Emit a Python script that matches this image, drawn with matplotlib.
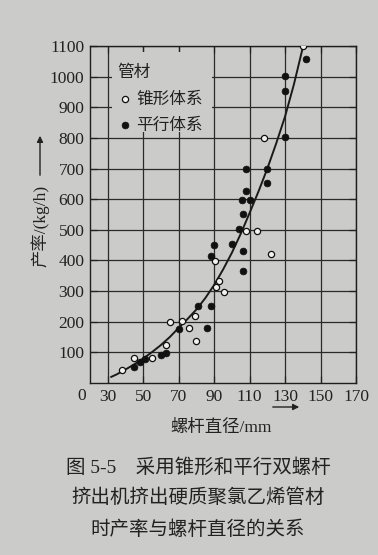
import matplotlib
matplotlib.use("Agg")
import matplotlib.pyplot as plt
from matplotlib.patches import Rectangle

# ---- data ----
cone_x = [38, 45, 55, 63, 65, 72, 76, 80, 79, 91, 93, 95.5, 90.5, 108, 114, 122, 118, 140]
cone_y = [41, 83, 80, 123, 199, 202, 178, 136, 219, 312, 334, 296, 398, 497, 497, 422, 800, 1100]

par_x = [45, 48, 51, 60, 63, 70, 81, 86, 88, 88, 90, 100, 106, 106, 104, 106,
         105.5, 110, 108, 108, 120, 120, 130, 130, 130, 142]
par_y = [53, 67, 78, 90, 97, 175, 250, 180, 250, 416, 449, 455, 430, 365, 503, 551,
         597, 598, 627, 698, 697, 652, 804, 953, 1003, 1056]

curve_x = [32, 35, 40, 45, 50, 55, 60, 65, 70, 75, 80, 85, 90, 95, 100, 105,
           110, 115, 120, 125, 130, 135, 140]
curve_y = [20, 28, 44, 61, 80, 101, 124, 150, 180, 209, 240, 277, 320, 370, 425, 487,
           555, 625, 700, 782, 870, 975, 1095]

x_ticks = [30, 50, 70, 90, 110, 130, 150, 170]
y_ticks = [100, 200, 300, 400, 500, 600, 700, 800, 900, 1000, 1100]

legend_title = "管材"
label_cone = "锥形体系"
label_par = "平行体系"
xlabel = "螺杆直径/mm"
ylabel = "产率/(kg/h)"
caption = ["图 5-5    采用锥形和平行双螺杆",
           "挤出机挤出硬质聚氯乙烯管材",
           "时产率与螺杆直径的关系"]

# ---- style ----
bg = "#cbcbc9"
ink = "#222222"
mixed = ["Liberation Serif", "Noto Sans CJK SC"]
cjk = ["Noto Sans CJK SC", "Liberation Serif"]

W, H = 378, 555
fig = plt.figure(figsize=(W / 100, H / 100), dpi=100, facecolor=bg)
ax = fig.add_axes([90 / W, (H - 383) / H, 266 / W, 337 / H])
ax.set_facecolor(bg)
ax.set_xlim(20, 170)
ax.set_ylim(0, 1100)
ax.set_xticks(x_ticks)
ax.set_yticks(y_ticks)
ax.grid(True, color="#2a2a2a", lw=0.9)
ax.set_axisbelow(True)
ax.tick_params(direction="in", length=5, width=0.9, colors=ink, top=True, right=True,
               labelsize=12.5, pad=4)
for lab in ax.get_xticklabels() + ax.get_yticklabels():
    lab.set_family("Liberation Serif")
    lab.set_color(ink)
for sp in ax.spines.values():
    sp.set_color("#1e1e1e")
    sp.set_linewidth(1.0)

# legend background that interrupts the grid
ax.add_patch(Rectangle((0.083, 0.745), 0.376, 0.238, transform=ax.transAxes,
                       facecolor=bg, edgecolor="none", zorder=1))

ax.plot(curve_x, curve_y, color="#1a1a1a", lw=1.4, zorder=2)
h1 = ax.scatter(cone_x, cone_y, s=20, facecolors="#f2f2f0", edgecolors="#111111",
                linewidths=0.9, zorder=3, label=label_cone)
h2 = ax.scatter(par_x, par_y, s=24, facecolors="#111111", edgecolors="#111111",
                linewidths=0.5, zorder=3, label=label_par)

leg = ax.legend(handles=[h1, h2], loc="upper left", bbox_to_anchor=(0.06, 0.98),
                frameon=False, title=legend_title, alignment="left",
                prop={"family": cjk, "size": 12},
                title_fontproperties={"family": cjk, "size": 12},
                handletextpad=0.2, labelspacing=0.55, borderpad=0.2,
                handlelength=0.9, scatterpoints=1)
for t in leg.get_texts():
    t.set_color(ink)
leg.get_title().set_color(ink)

# shared origin label
fig.text(82 / W, 1 - 396 / H, "0", ha="center", va="center", family="Liberation Serif",
         size=12.5, color=ink)

# y label with arrow
fig.text(40 / W, 1 - 226 / H, ylabel, rotation=90, ha="center", va="center",
         family=mixed, size=12.5, color=ink)
ax.annotate("", xy=(40 / W, 1 - 133 / H), xytext=(40 / W, 1 - 178 / H),
            xycoords="figure fraction", textcoords="figure fraction",
            arrowprops=dict(arrowstyle="-|>", color=ink, lw=1.0, mutation_scale=9))

# x arrow and label
ax.annotate("", xy=(302 / W, 1 - 407 / H), xytext=(270 / W, 1 - 407 / H),
            xycoords="figure fraction", textcoords="figure fraction",
            arrowprops=dict(arrowstyle="-|>", color=ink, lw=1.0, mutation_scale=9))
fig.text(221 / W, 1 - 428 / H, xlabel, ha="center", va="center", family=mixed,
         size=12.5, color=ink)

# caption
for line, yy in zip(caption, [468, 498, 530]):
    fig.text(198 / W, 1 - yy / H, line, ha="center", va="center", family=mixed,
             size=14, color=ink)

fig.savefig("out.png", dpi=100, facecolor=bg)
